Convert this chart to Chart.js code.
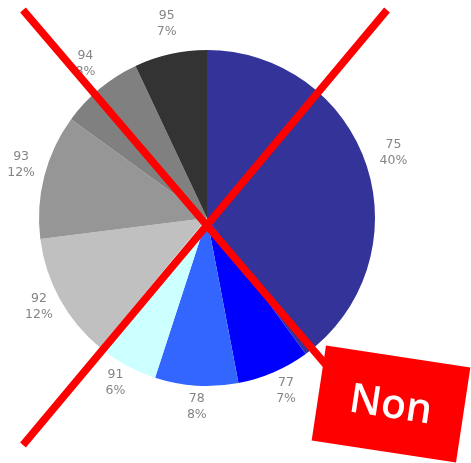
<!DOCTYPE html>
<html>
<head>
<meta charset="utf-8">
<script src="https://cdn.jsdelivr.net/npm/chart.js@4/dist/chart.umd.min.js"></script>
<style>
  html, body { margin: 0; padding: 0; background: #fff; }
  #wrap { width: 471px; height: 463px; }
</style>
</head>
<body>
<div id="wrap"><canvas id="pie" width="471" height="463"></canvas></div>
<script>
const categories = ['75', '77', '78', '91', '92', '93', '94', '95'];
const shares = [40, 7, 8, 6, 12, 12, 8, 7];
const sliceColors = ['#333399', '#0000ff', '#3366ff', '#ccffff', '#c0c0c0', '#969696', '#808080', '#333333'];
const stampText = 'Non';

// outside labels: category on first line, percent on second
const outsideLabels = {
    id: 'outsideLabels',
    afterDatasetsDraw(chart) {
        const ctx = chart.ctx;
        const meta = chart.getDatasetMeta(0);
        ctx.save();
        ctx.font = '12.5px "DejaVu Sans", Verdana, sans-serif';
        ctx.fillStyle = '#858585';
        ctx.textAlign = 'center';
        ctx.textBaseline = 'middle';
        meta.data.forEach((arc, i) => {
            const { x, y, startAngle, endAngle, outerRadius } = arc.getProps(['x', 'y', 'startAngle', 'endAngle', 'outerRadius'], true);
            const mid = (startAngle + endAngle) / 2;
            const r = outerRadius + 26;
            const lx = x + Math.cos(mid) * r + 2;
            const ly = y + Math.sin(mid) * r - 5;
            ctx.fillText(categories[i], lx, ly - 8);
            ctx.fillText(shares[i] + '%', lx, ly + 8);
        });
        ctx.restore();
    }
};

// red cross and "Non" stamp drawn over the chart
const stamp = {
    id: 'stamp',
    afterDraw(chart) {
        const ctx = chart.ctx;
        ctx.save();
        ctx.strokeStyle = '#ff0000';
        ctx.lineWidth = 7.5;
        ctx.lineCap = 'butt';
        ctx.beginPath();
        ctx.moveTo(23, 10);
        ctx.lineTo(350, 393);
        ctx.moveTo(387, 10);
        ctx.lineTo(23, 445);
        ctx.stroke();

        ctx.translate(391, 404);
        ctx.rotate(8.6 * Math.PI / 180);
        ctx.fillStyle = '#ff0000';
        ctx.fillRect(-73, -48, 146, 96);
        ctx.fillStyle = '#ffffff';
        ctx.font = '600 41px "Open Sans", Roboto, sans-serif';
        ctx.textAlign = 'center';
        ctx.textBaseline = 'middle';
        ctx.fillText(stampText, 0, 2);
        ctx.restore();
    }
};

new Chart(document.getElementById('pie'), {
    type: 'pie',
    data: {
        labels: categories,
        datasets: [{
            data: shares,
            backgroundColor: sliceColors,
            borderWidth: 0
        }]
    },
    options: {
        responsive: false,
        animation: false,
        layout: {
            padding: { left: 39, right: 96, top: 50, bottom: 77 }
        },
        plugins: {
            legend: { display: false },
            tooltip: { enabled: false }
        }
    },
    plugins: [outsideLabels, stamp]
});
</script>
</body>
</html>
